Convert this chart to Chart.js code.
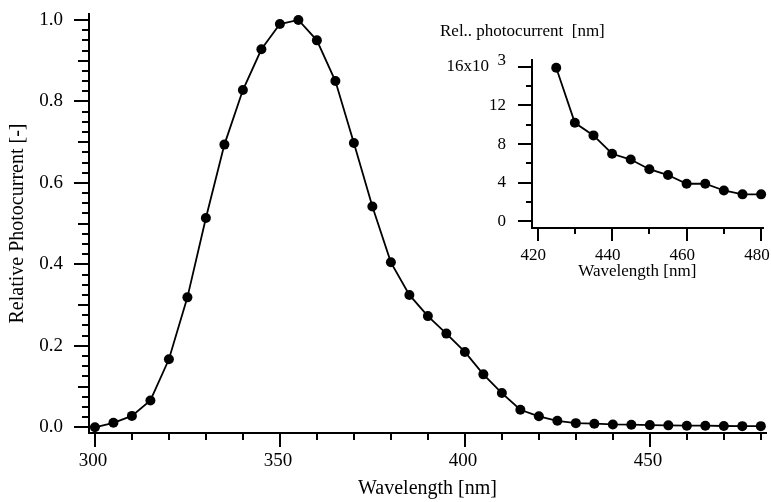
<!DOCTYPE html>
<html>
<head>
<meta charset="utf-8">
<script src="https://cdn.jsdelivr.net/npm/chart.js@4.4.0/dist/chart.umd.min.js"></script>
<style>
  html, body { margin: 0; padding: 0; background: #fff; overflow: hidden; }
  #wrap { position: relative; width: 771px; height: 502px; overflow: hidden; }
  #main { position: absolute; left: 0; top: 0; }
  #inset { position: absolute; left: 440px; top: 0; }
</style>
</head>
<body>
<div id="wrap">
  <canvas id="main" width="771" height="502"></canvas>
  <canvas id="inset" width="345" height="290"></canvas>
</div>
<script>
// Spectral response, 300-480 nm in 5 nm steps
const wavelengths = [
  300, 305, 310, 315, 320, 325, 330, 335, 340, 345, 350, 355, 360,
  365, 370, 375, 380, 385, 390, 395, 400, 405, 410, 415, 420, 425,
  430, 435, 440, 445, 450, 455, 460, 465, 470, 475, 480
];
const photocurrent = [
  0.0, 0.011, 0.028, 0.066, 0.167, 0.319, 0.514, 0.694, 0.828, 0.928, 0.990, 1.0, 0.950,
  0.850, 0.698, 0.542, 0.405, 0.325, 0.273, 0.230, 0.185, 0.130, 0.084, 0.043, 0.027, 0.0159,
  0.0102, 0.0089, 0.0070, 0.0064, 0.0054, 0.0048, 0.0039, 0.0039, 0.0032, 0.0028, 0.0028
];

// Tail of the spectrum, in units of 10^-3
const tailWavelengths = [425, 430, 435, 440, 445, 450, 455, 460, 465, 470, 475, 480];
const tailPhotocurrent = [15.9, 10.2, 8.9, 7.0, 6.4, 5.4, 4.8, 3.9, 3.9, 3.2, 2.8, 2.8];

const mainXTicks = [300, 350, 400, 450];
const mainYTicks = [0.0, 0.2, 0.4, 0.6, 0.8, 1.0];
const insetXTicks = [420, 440, 460, 480];
const insetYTicks = [0, 4, 8, 12, 16];

Chart.defaults.color = '#000';
Chart.defaults.font.family = '"Liberation Serif", "Times New Roman", serif';
Chart.defaults.animation = false;

// draws major / minor tick marks outside the axes
const axisTicks = {
  id: 'axisTicks',
  afterDraw(chart, args, opts) {
    const ctx = chart.ctx;
    const area = chart.chartArea;
    ctx.save();
    ctx.strokeStyle = '#000';
    ctx.lineWidth = 2;
    Object.keys(opts.scales || {}).forEach(id => {
      const scale = chart.scales[id];
      const marks = opts.scales[id];
      const fine = marks[marks.length - 1].step;
      const n0 = Math.ceil(scale.min / fine - 1e-9);
      const n1 = Math.floor(scale.max / fine + 1e-9);
      for (let n = n0; n <= n1; n++) {
        const v = n * fine;
        const mark = marks.find(m => Math.abs(v / m.step - Math.round(v / m.step)) < 1e-6);
        const p = Math.round(scale.getPixelForValue(v));
        ctx.beginPath();
        if (scale.isHorizontal()) {
          ctx.moveTo(p, area.bottom);
          ctx.lineTo(p, area.bottom + mark.len);
        } else {
          ctx.moveTo(area.left, p);
          ctx.lineTo(area.left - mark.len, p);
        }
        ctx.stroke();
      }
    });
    if (opts.exponent) {
      const y = chart.scales.y.getPixelForValue(opts.exponent.value);
      ctx.fillStyle = '#000';
      ctx.font = opts.exponent.font;
      ctx.textAlign = 'right';
      ctx.textBaseline = 'middle';
      ctx.fillText(opts.exponent.text, area.left - opts.exponent.pad, y - 6);
    }
    ctx.restore();
  }
};

const lineStyle = {
  borderColor: '#000',
  borderWidth: 1.8,
  backgroundColor: '#000',
  pointRadius: 5,
  pointBorderWidth: 0,
  pointBackgroundColor: '#000',
  tension: 0,
  clip: false
};

// invisible grid, only used to push the tick labels away from the axis
function spacer(len) {
  return {
    display: true,
    drawOnChartArea: false,
    drawTicks: true,
    tickLength: len,
    color: 'rgba(0,0,0,0)'
  };
}

// main spectrum
new Chart(document.getElementById('main'), {
  type: 'line',
  data: {
    datasets: [{
      data: wavelengths.map((w, i) => ({ x: w, y: photocurrent[i] })),
      ...lineStyle
    }]
  },
  options: {
    responsive: false,
    layout: { padding: { top: 14, right: 1, left: 0, bottom: 0 } },
    plugins: {
      legend: { display: false },
      tooltip: { enabled: false },
      axisTicks: {
        scales: {
          x: [{ step: 50, len: 14 }, { step: 10, len: 7 }],
          y: [{ step: 0.2, len: 15 }, { step: 0.1, len: 11 }, { step: 0.025, len: 7 }]
        }
      }
    },
    scales: {
      x: {
        type: 'linear',
        min: 298.4,
        max: 481.4,
        afterFit(scale) { scale.height = 69; },
        grid: spacer(17),
        border: { display: true, color: '#000', width: 2 },
        ticks: {
          stepSize: 50,
          includeBounds: false,
          autoSkip: false,
          maxRotation: 0,
          padding: 0,
          font: { size: 19 },
          callback: (v) => mainXTicks.includes(v) ? v + '\u2009' : ''
        },
        title: {
          display: true,
          text: 'Wavelength [nm]',
          font: { size: 20 },
          padding: { top: 0, bottom: 1 }
        }
      },
      y: {
        min: -0.014,
        max: 1.0147,
        afterFit(scale) { scale.width = 89; },
        grid: spacer(26),
        border: { display: true, color: '#000', width: 2 },
        ticks: {
          stepSize: 0.2,
          includeBounds: false,
          autoSkip: false,
          padding: 0,
          font: { size: 19 },
          callback: (v) => mainYTicks.some(t => Math.abs(t - v) < 1e-6) ? v.toFixed(1) : ''
        },
        title: {
          display: true,
          text: 'Relative Photocurrent [-]',
          font: { size: 20 },
          padding: { top: 6, bottom: 0 }
        }
      }
    }
  },
  plugins: [axisTicks]
});

// inset: 425-480 nm tail on a 10^-3 scale
new Chart(document.getElementById('inset'), {
  type: 'line',
  data: {
    datasets: [{
      data: tailWavelengths.map((w, i) => ({ x: w, y: tailPhotocurrent[i] })),
      ...lineStyle
    }]
  },
  options: {
    responsive: false,
    layout: { padding: { top: 0, right: 22, left: 0, bottom: 0 } },
    plugins: {
      legend: { display: false },
      tooltip: { enabled: false },
      title: {
        display: true,
        text: 'Rel.. photocurrent  [nm]',
        align: 'start',
        color: '#000',
        font: { size: 17, weight: 'normal' },
        padding: { top: 21, bottom: 18.6 }
      },
      axisTicks: {
        scales: {
          x: [{ step: 20, len: 13 }, { step: 10, len: 6 }],
          y: [{ step: 4, len: 14 }, { step: 2, len: 6 }]
        },
        exponent: { value: 16, text: '3', font: '17px "Liberation Serif", serif', pad: 26 }
      }
    },
    scales: {
      x: {
        type: 'linear',
        min: 418.5,
        max: 480.5,
        afterFit(scale) { scale.height = 62; },
        grid: spacer(17),
        border: { display: true, color: '#000', width: 2 },
        ticks: {
          stepSize: 20,
          includeBounds: false,
          autoSkip: false,
          maxRotation: 0,
          padding: 0,
          font: { size: 17 },
          callback: (v) => insetXTicks.includes(v) ? v + '\u2002' : ''
        },
        title: {
          display: true,
          text: 'Wavelength [nm]\u2003\u2009',
          font: { size: 17 },
          padding: { top: 0, bottom: 8 }
        }
      },
      y: {
        min: -0.68,
        max: 16.7,
        afterFit(scale) { scale.width = 92; },
        grid: spacer(26),
        border: { display: true, color: '#000', width: 2 },
        ticks: {
          stepSize: 4,
          includeBounds: false,
          autoSkip: false,
          padding: 0,
          font: { size: 17 },
          callback: (v) => {
            if (!insetYTicks.includes(v)) return '';
            return v === 16 ? '16x10\u2002\u2002' : String(v);
          }
        }
      }
    }
  },
  plugins: [axisTicks]
});
</script>
</body>
</html>
